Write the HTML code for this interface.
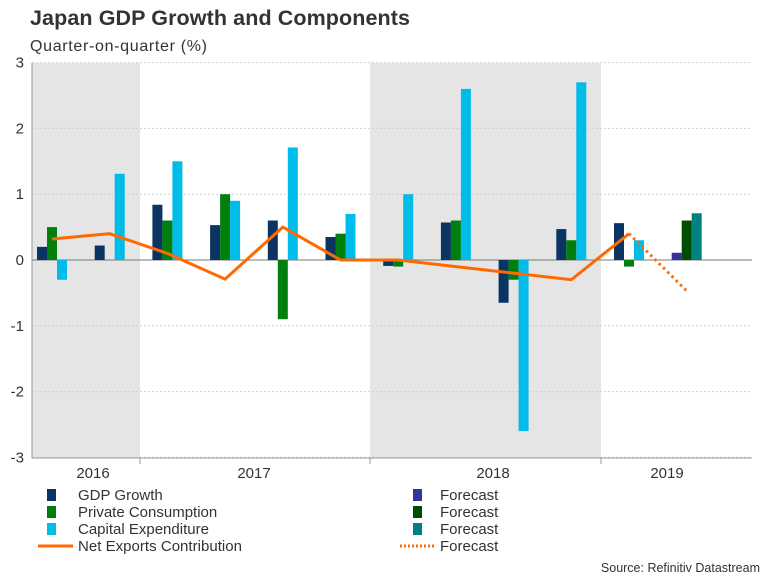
<!DOCTYPE html>
<html><head><meta charset="utf-8"><style>
body{margin:0;background:#fff;font-family:"Liberation Sans",sans-serif}
svg text{font-family:"Liberation Sans",sans-serif}
</style></head><body>
<svg width="768" height="576" id="chart">
<text x="30" y="25" font-size="21.5" font-weight="bold" fill="#333" textLength="380">Japan GDP Growth and Components</text>
<text x="30" y="51" font-size="16" fill="#333" textLength="177">Quarter-on-quarter (%)</text>
<g id="plot"></g>
<g id="legend">
<rect x="47" y="489" width="9" height="12" fill="#0b3463"/><text x="78" y="500" font-size="15" fill="#333">GDP Growth</text>
<rect x="47" y="506" width="9" height="12" fill="#007f0e"/><text x="78" y="517" font-size="15" fill="#333">Private Consumption</text>
<rect x="47" y="523" width="9" height="12" fill="#00bce8"/><text x="78" y="534" font-size="15" fill="#333">Capital Expenditure</text>
<line x1="38" y1="546" x2="73" y2="546" stroke="#ff6a00" stroke-width="3"/><text x="78" y="551" font-size="15" fill="#333" textLength="164">Net Exports Contribution</text>
<rect x="413" y="489" width="9" height="12" fill="#333399"/><text x="440" y="500" font-size="15" fill="#333">Forecast</text>
<rect x="413" y="506" width="9" height="12" fill="#004d00"/><text x="440" y="517" font-size="15" fill="#333">Forecast</text>
<rect x="413" y="523" width="9" height="12" fill="#008080"/><text x="440" y="534" font-size="15" fill="#333">Forecast</text>
<line x1="400" y1="546" x2="435" y2="546" stroke="#ff6a00" stroke-width="3" stroke-dasharray="2,2"/><text x="440" y="551" font-size="15" fill="#333">Forecast</text>
</g>
<text x="760" y="572" font-size="12.5" fill="#333" text-anchor="end">Source: Refinitiv Datastream</text>
</svg>
<script>
const quarters=["2016Q3","2016Q4","2017Q1","2017Q2","2017Q3","2017Q4","2018Q1","2018Q2","2018Q3","2018Q4","2019Q1","2019Q2"];
const gdp=[0.2,0.22,0.84,0.53,0.6,0.35,-0.09,0.57,-0.65,0.47,0.56,null];
const pc=[0.5,0,0.6,1.0,-0.9,0.4,-0.1,0.6,-0.3,0.3,-0.1,null];
const capex=[-0.3,1.31,1.5,0.9,1.71,0.7,1.0,2.6,-2.6,2.7,0.3,null];
const gdpF=[null,null,null,null,null,null,null,null,null,null,null,0.11];
const pcF=[null,null,null,null,null,null,null,null,null,null,null,0.6];
const capexF=[null,null,null,null,null,null,null,null,null,null,null,0.71];
const netExports=[0.32,0.4,0.1,-0.29,0.5,0,0,-0.1,-0.2,-0.3,0.4,null];
const netExportsF=[null,null,null,null,null,null,null,null,null,null,0.4,-0.47];
const yTicks=[3,2,1,0,-1,-2,-3];
const years=["2016","2017","2018","2019"];

const NS="http://www.w3.org/2000/svg";
const plot=document.getElementById('plot');
const X0=32,X1=752,Y0=458,Y1=63;
const y=v=>260-v*65.8;
const gx=i=>37+i*57.7;
const qx=i=>gx(i)+15;
function mk(t,a,p){const e=document.createElementNS(NS,t);for(const k in a)e.setAttribute(k,a[k]);(p||plot).appendChild(e);return e;}
const s1=mk('rect',{x:X0,y:Y1,width:140-X0,height:Y0-Y1,fill:'#e5e5e5'});


const s2=mk('rect',{x:370,y:Y1,width:231,height:Y0-Y1,fill:'#e5e5e5'});


yTicks.forEach(t=>{
  const l=mk('line',{x1:X0,x2:X1,y1:y(t),y2:y(t),stroke:t===0?'#777':'#d0d0d0','stroke-dasharray':t===0?'':'2,2','stroke-width':1});
  
  
  const tx=mk('text',{x:24,y:y(t)+5,'font-size':15,fill:'#333','text-anchor':'end'});tx.textContent=t;
  
  
});
const ax=mk('line',{x1:X0,x2:X0,y1:Y1,y2:Y0,stroke:'#999'});


const bx=mk('line',{x1:X0,x2:X1,y1:Y0,y2:Y0,stroke:'#999'});


[140,370,601].forEach(px=>{const t=mk('line',{x1:px,x2:px,y1:Y0,y2:Y0+6,stroke:'#999'});

});
const yearX=[93,254,493,667];
years.forEach((yr,i)=>{const t=mk('text',{x:yearX[i],y:478,'font-size':15,fill:'#333','text-anchor':'middle'});t.textContent=yr;

});
const series=[[gdp,'#0b3463',0,'gdp'],[pc,'#007f0e',1,'pc'],[capex,'#00bce8',2,'capex'],[gdpF,'#333399',0,'gdp-forecast'],[pcF,'#004d00',1,'pc-forecast'],[capexF,'#008080',2,'capex-forecast']];
series.forEach(([arr,col,off,nm])=>{
  arr.forEach((v,i)=>{
    if(v===null||v===0)return;
    const top=Math.min(y(v),y(0)),h=Math.abs(y(v)-y(0));
    const r=mk('rect',{x:gx(i)+off*10,y:top,width:10,height:Math.max(h,1),fill:col});
    
    
  });
});
function pts(arr){return arr.map((v,i)=>v===null?null:qx(i)+','+y(v)).filter(p=>p).join(' ');}
const ln=mk('polyline',{points:pts(netExports),fill:'none',stroke:'#ff6a00','stroke-width':3,'stroke-linejoin':'miter'});


const lf=mk('polyline',{points:pts(netExportsF),fill:'none',stroke:'#ff6a00','stroke-width':3,'stroke-dasharray':'2.5,3.5'});


</script>
</body></html>
